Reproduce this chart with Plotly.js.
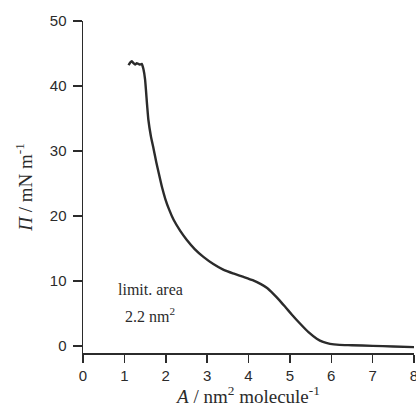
<!DOCTYPE html>
<html>
<head>
<meta charset="utf-8">
<script src="https://cdn.plot.ly/plotly-3.0.1.min.js"></script>
<style>html,body{margin:0;padding:0;background:#fff;}#chart{width:416px;height:410px;}</style>
</head>
<body>
<div id="chart"></div>
<script>
// Area per molecule (nm^2) and surface pressure (mN/m), read from the isotherm
const areaNm2 = [1.10,1.14,1.18,1.22,1.26,1.30,1.34,1.38,1.42,1.46,1.50,1.55,1.58,1.64,1.71,1.77,1.83,1.91,1.99,2.08,2.19,2.35,2.51,2.70,2.91,3.15,3.40,3.65,3.88,4.10,4.30,4.45,4.60,4.75,4.90,5.05,5.25,5.45,5.65,5.80,5.97,6.20,6.50,7.00,7.50,8.00];
const pressure = [43.2,43.6,43.8,43.5,43.3,43.5,43.4,43.3,43.4,42.6,41.0,37.0,34.8,32.3,30.2,28.3,26.6,24.4,22.6,21.0,19.4,17.7,16.3,14.9,13.7,12.6,11.7,11.1,10.6,10.1,9.5,8.9,8.0,7.0,5.9,4.8,3.4,2.1,1.1,0.6,0.3,0.15,0.1,0.0,-0.1,-0.2];
const xTicks = [0,1,2,3,4,5,6,7,8];
const yTicks = [0,10,20,30,40,50];
const noteLines = ["limit. area", "2.2 nm<sup>2</sup>"];

const ink = '#2b2b2b';
const serif = '"Liberation Serif", "Times New Roman", serif';
const sans = '"Liberation Sans", Arial, sans-serif';

const trace = {
  x: areaNm2, y: pressure, type: 'scatter', mode: 'lines',
  line: {color: ink, width: 2.4, shape: 'spline', smoothing: 0.5},
  hoverinfo: 'skip', showlegend: false
};

const layout = {
  width: 416, height: 410,
  margin: {l: 83, r: 2, t: 21, b: 57},
  paper_bgcolor: '#fff', plot_bgcolor: '#fff',
  showlegend: false,
  xaxis: {
    range: [0, 8], tickvals: xTicks, ticktext: xTicks.map(String),
    ticks: 'outside', ticklen: 8, tickwidth: 1.5, tickcolor: ink,
    showline: true, linecolor: ink, linewidth: 1.5,
    showgrid: false, zeroline: false,
    tickfont: {family: sans, size: 15, color: ink},
    ticklabelstandoff: 0, ticklabeloverflow: 'allow',
    title: {text: '<i>A</i> / nm<sup>2</sup> molecule<sup>-1</sup>', font: {family: serif, size: 19, color: ink}, standoff: 6}
  },
  yaxis: {
    range: [-1.1, 50], tickvals: yTicks, ticktext: yTicks.map(String),
    ticks: 'outside', ticklen: 9, tickwidth: 1.5, tickcolor: ink,
    showline: true, linecolor: ink, linewidth: 1.5,
    showgrid: false, zeroline: false,
    tickfont: {family: sans, size: 15, color: ink},
    ticklabelstandoff: 3,
    title: {text: '<i>Π</i> / mN m<sup>-1</sup>', font: {family: serif, size: 19, color: ink}, standoff: 12}
  },
  annotations: [
    {x: 1.63, y: 8.7, xref: 'x', yref: 'y', text: noteLines[0], showarrow: false, font: {family: serif, size: 16, color: ink}},
    {x: 1.63, y: 4.7, xref: 'x', yref: 'y', text: noteLines[1], showarrow: false, font: {family: serif, size: 16, color: ink}}
  ]
};

Plotly.newPlot('chart', [trace], layout, {staticPlot: true, displayModeBar: false});
</script>
</body>
</html>
